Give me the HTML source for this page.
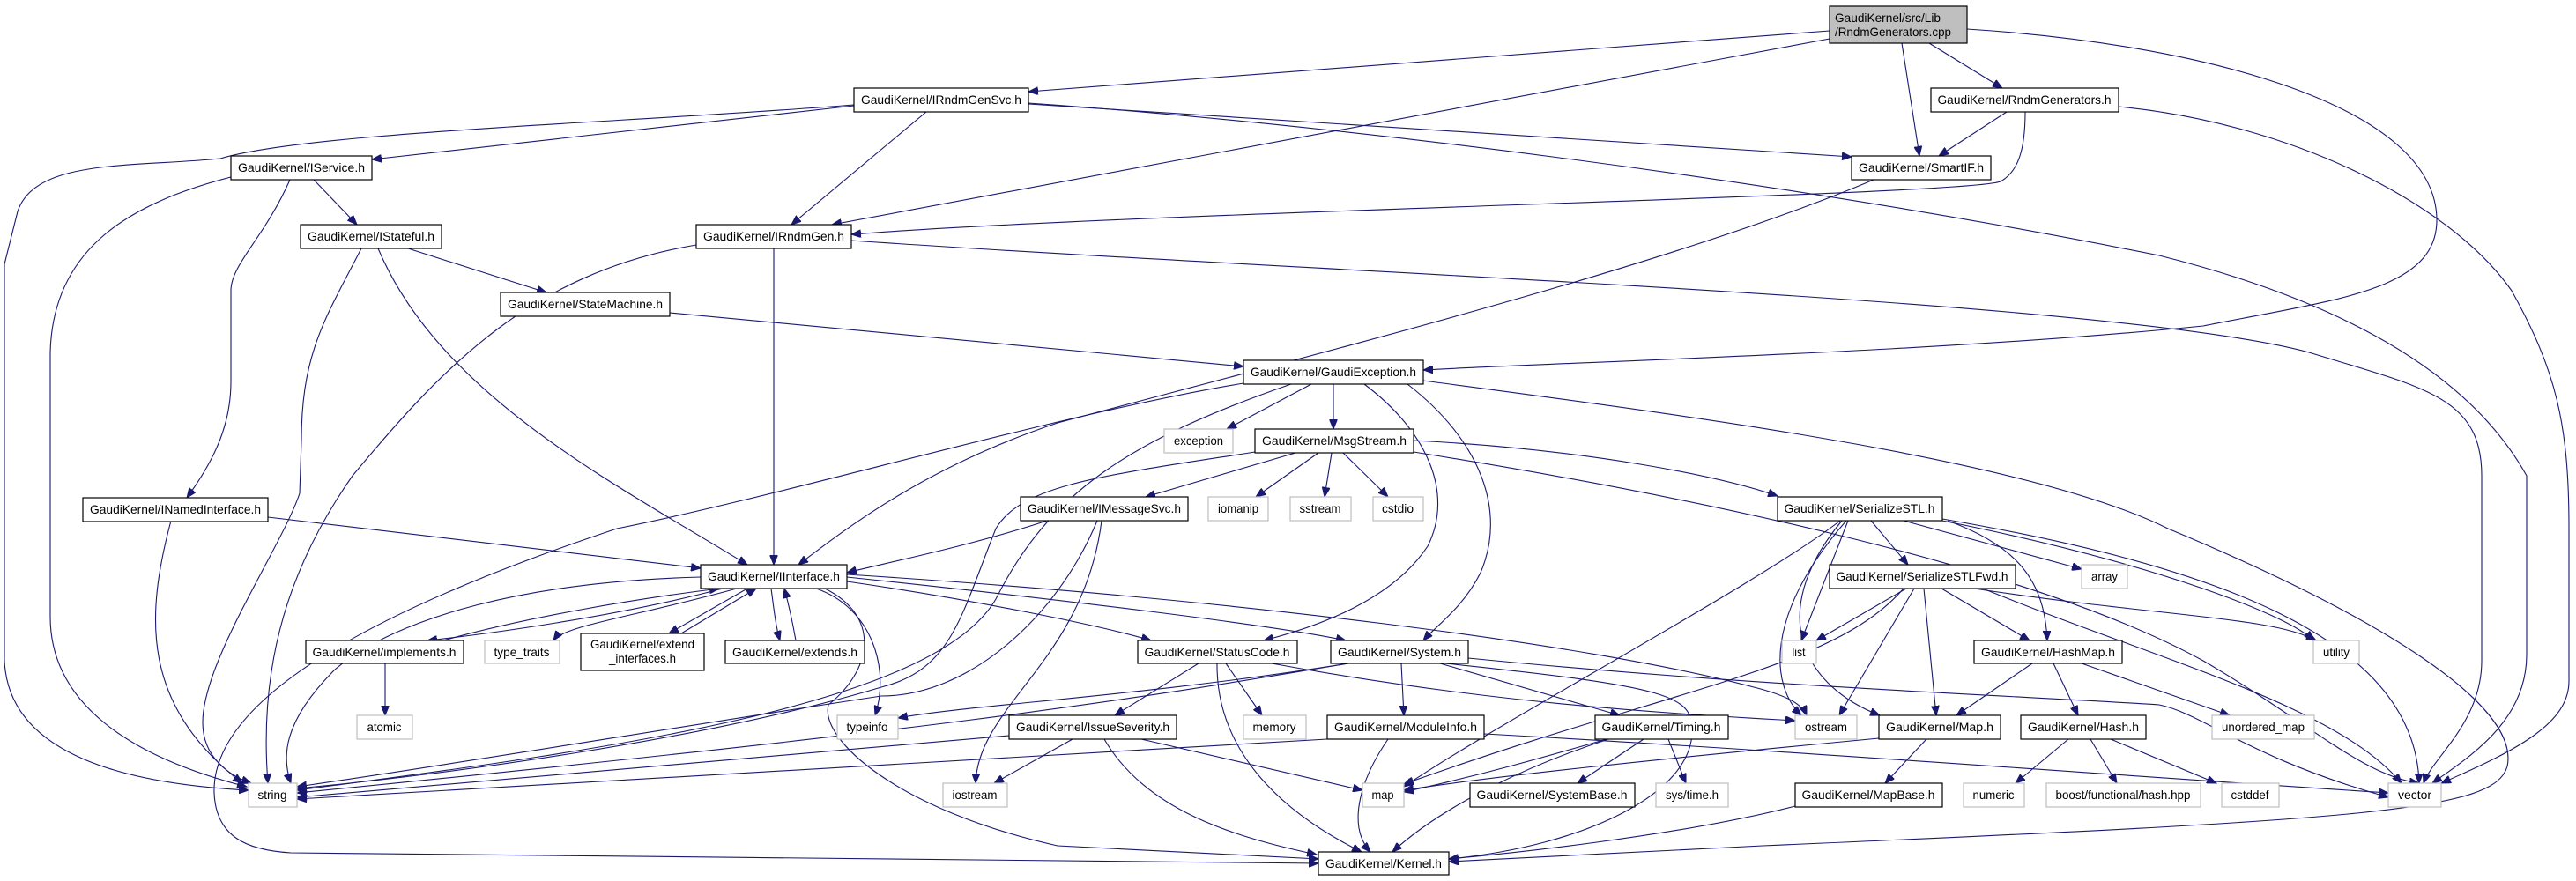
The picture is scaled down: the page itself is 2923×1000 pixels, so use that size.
<!DOCTYPE html>
<html><head><meta charset="utf-8"><style>
html,body{margin:0;padding:0;background:#fff}
svg{display:block}
text{font-family:"Liberation Sans",Arial,sans-serif;font-size:14px;fill:#000}
.e{fill:none;stroke:#191970;stroke-width:1.1}
.b{fill:#fff;stroke:#000;stroke-width:1.2}
.g{fill:#fff;stroke:#bfbfbf;stroke-width:1.2}
</style></head><body>
<svg width="2923" height="1000" viewBox="0 0 2923 1000" xmlns="http://www.w3.org/2000/svg">
<defs><marker id="a" markerUnits="userSpaceOnUse" markerWidth="12" markerHeight="9" refX="11" refY="4.5" orient="auto"><path d="M0,0 L11,4.5 L0,9 z" fill="#191970" stroke="#191970"/></marker></defs>
<g class="e" marker-end="url(#a)">
<path d="M2076,35 L1167,104"/>
<path d="M2076,44 L944,255"/>
<path d="M2158,49 L2178,177"/>
<path d="M2189,49 L2272,100"/>
<path d="M2232,33 C2500,50 2765,120 2765,250 C2765,330 2650,340 2500,370 C2200,400 1800,410 1615,420"/>
<path d="M2277,127 L2200,177"/>
<path d="M2298,127 C2298,170 2290,195 2270,206 C2230,222 1300,240 966,266"/>
<path d="M2404,121 C2600,140 2780,230 2850,330 C2900,420 2915,480 2915,600 L2915,773 C2915,820 2860,850 2770,889"/>
<path d="M1167,117 C1500,140 2000,200 2450,290 C2650,340 2800,420 2867,540 L2867,743 C2867,820 2800,860 2760,889"/>
<path d="M966,273 C1500,310 2400,340 2620,400 C2750,440 2816,450 2816,540 L2816,750 C2816,820 2760,860 2750,889"/>
<path d="M969,120 L422,181"/>
<path d="M1051,127 L898,255"/>
<path d="M1167,118 L2101,178"/>
<path d="M969,119 C700,140 350,150 250,180 C150,190 40,180 20,240 L5,300 L5,750 C10,860 150,890 282,897"/>
<path d="M2126,204 C1900,300 1500,400 1200,480 C1050,530 960,600 906,641"/>
<path d="M262,201 C150,230 60,280 57,400 L57,700 C57,800 150,860 280,893"/>
<path d="M329,204 C300,270 262,300 262,330 L262,433 C262,480 245,520 212,565"/>
<path d="M356,204 L405,255"/>
<path d="M410,282 C370,360 342,400 342,500 L340,560 C320,620 230,750 230,820 C230,860 260,880 285,889"/>
<path d="M429,282 C500,450 700,550 848,641"/>
<path d="M463,282 L620,332"/>
<path d="M760,355 L1411,416"/>
<path d="M878,282 L878,641"/>
<path d="M790,278 C600,310 500,420 400,540 C330,640 293,750 304,889"/>
<path d="M304,587 L795,645"/>
<path d="M194,591 C165,700 160,800 275,889"/>
<path d="M1488,436 L1392,487"/>
<path d="M1513,436 L1513,487"/>
<path d="M1465,436 C1280,500 1190,560 1130,680 C1060,800 700,850 337,897"/>
<path d="M1411,435 C1200,470 900,560 700,600 C400,700 240,800 243,900 C245,950 280,965 330,968 L1496,980"/>
<path d="M1548,436 C1620,490 1650,560 1620,620 C1580,680 1500,710 1434,727"/>
<path d="M1597,436 C1680,500 1710,580 1680,650 C1660,690 1630,710 1615,727"/>
<path d="M1615,432 C1900,470 2300,520 2460,600 C2700,700 2860,800 2845,870 C2830,920 2700,930 2000,960 L1644,978"/>
<path d="M1470,514 L1300,564"/>
<path d="M1496,514 L1425,564"/>
<path d="M1511,514 L1503,564"/>
<path d="M1524,514 L1575,564"/>
<path d="M1424,513 C1250,540 1160,550 1130,600 C1090,700 1080,760 1000,780 C800,840 500,880 337,895"/>
<path d="M1604,500 C1800,510 1950,540 2017,563"/>
<path d="M1604,513 C1900,560 2300,640 2500,750 C2620,820 2680,880 2745,889"/>
<path d="M1188,591 C1100,620 1000,640 961,650"/>
<path d="M1245,591 C1200,700 1100,790 1000,790 C800,820 500,870 337,893"/>
<path d="M1250,591 C1230,750 1110,800 1107,889"/>
<path d="M820,668 C700,700 550,720 485,727"/>
<path d="M503,727 C600,700 720,680 816,668"/>
<path d="M836,668 C720,700 640,710 628,727"/>
<path d="M848,668 L759,719"/>
<path d="M773,719 L858,668"/>
<path d="M875,668 C878,690 880,710 885,727"/>
<path d="M903,727 C900,710 896,690 890,668"/>
<path d="M926,668 C990,690 1010,760 993,812"/>
<path d="M961,660 C1100,680 1250,710 1306,727"/>
<path d="M961,655 C1200,680 1450,710 1527,727"/>
<path d="M961,652 C1400,680 1800,730 1990,780 C2030,790 2045,800 2050,812"/>
<path d="M936,668 C1000,700 990,760 940,800 C930,840 1020,920 1200,960 L1496,975"/>
<path d="M795,655 C600,660 450,700 380,760 C320,820 320,860 330,889"/>
<path d="M437,753 L437,812"/>
<path d="M1360,753 L1265,812"/>
<path d="M1391,753 L1432,812"/>
<path d="M1443,753 C1700,800 1900,810 2037,818"/>
<path d="M1381,753 C1380,850 1450,920 1545,967"/>
<path d="M1530,753 C1300,790 1100,800 1019,815"/>
<path d="M1530,753 C1250,800 1050,830 337,900"/>
<path d="M1590,753 L1593,812"/>
<path d="M1634,753 L1838,812"/>
<path d="M1640,753 C1900,780 1920,790 1920,830 C1920,900 1800,960 1644,975"/>
<path d="M1666,747 C2000,780 2300,790 2450,800 C2500,810 2550,860 2710,905"/>
<path d="M1145,835 L337,905"/>
<path d="M1217,839 L1128,889"/>
<path d="M1295,839 L1546,897"/>
<path d="M1253,839 C1300,920 1400,950 1494,970"/>
<path d="M1506,839 C1200,860 800,880 337,907"/>
<path d="M1575,839 C1540,890 1530,940 1555,967"/>
<path d="M1684,833 C2000,850 2400,880 2710,900"/>
<path d="M1865,839 L1790,889"/>
<path d="M1893,839 L1913,889"/>
<path d="M1825,839 C1700,880 1620,930 1580,967"/>
<path d="M1823,839 C1750,860 1680,880 1593,899"/>
<path d="M2123,591 L2165,641"/>
<path d="M2160,591 L2362,646"/>
<path d="M2097,591 L2044,727"/>
<path d="M2210,591 C2290,620 2320,660 2323,727"/>
<path d="M2204,591 C2450,640 2600,700 2625,727"/>
<path d="M2204,589 C2500,640 2740,720 2745,889"/>
<path d="M2095,591 C2000,700 2010,780 2044,812"/>
<path d="M2090,591 C2000,700 2050,780 2133,812"/>
<path d="M2088,591 C2000,660 1700,820 1593,893"/>
<path d="M2163,668 L2061,727"/>
<path d="M2172,668 L2087,812"/>
<path d="M2183,668 L2197,812"/>
<path d="M2203,668 L2303,727"/>
<path d="M2240,668 C2450,700 2580,700 2628,727"/>
<path d="M2250,668 C2450,750 2650,800 2725,889"/>
<path d="M2160,668 C2080,760 1900,780 1593,890"/>
<path d="M2306,753 L2220,812"/>
<path d="M2330,753 L2358,812"/>
<path d="M2362,753 L2530,812"/>
<path d="M2347,839 L2287,889"/>
<path d="M2372,839 L2402,889"/>
<path d="M2395,839 L2515,889"/>
<path d="M2132,838 C1900,860 1700,880 1593,897"/>
<path d="M2186,839 L2139,889"/>
<path d="M2037,915 C1900,950 1700,970 1644,975"/>
</g>
<g text-anchor="middle">
<rect x="2076" y="7" width="156" height="42" fill="#bfbfbf" stroke="#000" stroke-width="1.2"/>
<text x="2082" y="25" text-anchor="start" textLength="120" lengthAdjust="spacingAndGlyphs">GaudiKernel/src/Lib</text>
<text x="2082" y="41" text-anchor="start" textLength="132" lengthAdjust="spacingAndGlyphs">/RndmGenerators.cpp</text>

<rect class="b" x="969" y="100" width="198" height="27"/><text x="1068" y="118" textLength="182" lengthAdjust="spacingAndGlyphs">GaudiKernel/IRndmGenSvc.h</text>
<rect class="b" x="2191" y="100" width="213" height="27"/><text x="2297" y="118" textLength="197" lengthAdjust="spacingAndGlyphs">GaudiKernel/RndmGenerators.h</text>
<rect class="b" x="2101" y="177" width="158" height="27"/><text x="2180" y="195" textLength="142" lengthAdjust="spacingAndGlyphs">GaudiKernel/SmartIF.h</text>
<rect class="b" x="262" y="177" width="160" height="27"/><text x="342" y="195" textLength="144" lengthAdjust="spacingAndGlyphs">GaudiKernel/IService.h</text>
<rect class="b" x="341" y="255" width="160" height="27"/><text x="421" y="273" textLength="144" lengthAdjust="spacingAndGlyphs">GaudiKernel/IStateful.h</text>
<rect class="b" x="790" y="255" width="176" height="27"/><text x="878" y="273" textLength="160" lengthAdjust="spacingAndGlyphs">GaudiKernel/IRndmGen.h</text>
<rect class="b" x="568" y="332" width="192" height="27"/><text x="664" y="350" textLength="176" lengthAdjust="spacingAndGlyphs">GaudiKernel/StateMachine.h</text>
<rect class="b" x="1411" y="409" width="204" height="27"/><text x="1513" y="427" textLength="188" lengthAdjust="spacingAndGlyphs">GaudiKernel/GaudiException.h</text>
<rect class="g" x="1321" y="487" width="78" height="27"/><text x="1360" y="505" textLength="56" lengthAdjust="spacingAndGlyphs">exception</text>
<rect class="b" x="1424" y="487" width="180" height="27"/><text x="1514" y="505" textLength="164" lengthAdjust="spacingAndGlyphs">GaudiKernel/MsgStream.h</text>
<rect class="b" x="94" y="565" width="210" height="27"/><text x="199" y="583" textLength="194" lengthAdjust="spacingAndGlyphs">GaudiKernel/INamedInterface.h</text>
<rect class="b" x="1158" y="564" width="190" height="27"/><text x="1253" y="582" textLength="174" lengthAdjust="spacingAndGlyphs">GaudiKernel/IMessageSvc.h</text>
<rect class="g" x="1371" y="564" width="68" height="27"/><text x="1405" y="582" textLength="46" lengthAdjust="spacingAndGlyphs">iomanip</text>
<rect class="g" x="1464" y="564" width="69" height="27"/><text x="1498" y="582" textLength="47" lengthAdjust="spacingAndGlyphs">sstream</text>
<rect class="g" x="1558" y="564" width="57" height="27"/><text x="1586" y="582" textLength="36" lengthAdjust="spacingAndGlyphs">cstdio</text>
<rect class="b" x="2017" y="564" width="187" height="27"/><text x="2110" y="582" textLength="171" lengthAdjust="spacingAndGlyphs">GaudiKernel/SerializeSTL.h</text>
<rect class="b" x="795" y="641" width="166" height="27"/><text x="878" y="659" textLength="150" lengthAdjust="spacingAndGlyphs">GaudiKernel/IInterface.h</text>
<rect class="b" x="2076" y="641" width="211" height="27"/><text x="2181" y="659" textLength="195" lengthAdjust="spacingAndGlyphs">GaudiKernel/SerializeSTLFwd.h</text>
<rect class="g" x="2362" y="641" width="52" height="27"/><text x="2388" y="659" textLength="30" lengthAdjust="spacingAndGlyphs">array</text>
<rect class="b" x="347" y="727" width="179" height="26"/><text x="436" y="745" textLength="163" lengthAdjust="spacingAndGlyphs">GaudiKernel/implements.h</text>
<rect class="g" x="550" y="727" width="85" height="26"/><text x="592" y="745" textLength="63" lengthAdjust="spacingAndGlyphs">type_traits</text>
<rect class="b" x="659" y="719" width="140" height="42"/><text x="729" y="736" textLength="118" lengthAdjust="spacingAndGlyphs">GaudiKernel/extend</text><text x="729" y="752" textLength="76" lengthAdjust="spacingAndGlyphs">_interfaces.h</text>
<rect class="b" x="823" y="727" width="158" height="26"/><text x="902" y="745" textLength="142" lengthAdjust="spacingAndGlyphs">GaudiKernel/extends.h</text>
<rect class="b" x="1291" y="727" width="181" height="26"/><text x="1381" y="745" textLength="165" lengthAdjust="spacingAndGlyphs">GaudiKernel/StatusCode.h</text>
<rect class="b" x="1510" y="727" width="156" height="26"/><text x="1588" y="745" textLength="140" lengthAdjust="spacingAndGlyphs">GaudiKernel/System.h</text>
<rect class="g" x="2022" y="727" width="39" height="26"/><text x="2041" y="745" textLength="15" lengthAdjust="spacingAndGlyphs">list</text>
<rect class="b" x="2240" y="727" width="168" height="26"/><text x="2324" y="745" textLength="152" lengthAdjust="spacingAndGlyphs">GaudiKernel/HashMap.h</text>
<rect class="g" x="2625" y="727" width="52" height="26"/><text x="2651" y="745" textLength="30" lengthAdjust="spacingAndGlyphs">utility</text>
<rect class="g" x="405" y="812" width="63" height="27"/><text x="436" y="830" textLength="39" lengthAdjust="spacingAndGlyphs">atomic</text>
<rect class="g" x="950" y="812" width="69" height="27"/><text x="984" y="830" textLength="47" lengthAdjust="spacingAndGlyphs">typeinfo</text>
<rect class="b" x="1145" y="812" width="190" height="27"/><text x="1240" y="830" textLength="174" lengthAdjust="spacingAndGlyphs">GaudiKernel/IssueSeverity.h</text>
<rect class="g" x="1411" y="812" width="71" height="27"/><text x="1446" y="830" textLength="49" lengthAdjust="spacingAndGlyphs">memory</text>
<rect class="b" x="1506" y="812" width="178" height="27"/><text x="1595" y="830" textLength="162" lengthAdjust="spacingAndGlyphs">GaudiKernel/ModuleInfo.h</text>
<rect class="b" x="1810" y="812" width="151" height="27"/><text x="1885" y="830" textLength="135" lengthAdjust="spacingAndGlyphs">GaudiKernel/Timing.h</text>
<rect class="g" x="2037" y="812" width="70" height="27"/><text x="2072" y="830" textLength="48" lengthAdjust="spacingAndGlyphs">ostream</text>
<rect class="b" x="2132" y="812" width="138" height="27"/><text x="2201" y="830" textLength="122" lengthAdjust="spacingAndGlyphs">GaudiKernel/Map.h</text>
<rect class="b" x="2293" y="812" width="142" height="27"/><text x="2364" y="830" textLength="126" lengthAdjust="spacingAndGlyphs">GaudiKernel/Hash.h</text>
<rect class="g" x="2510" y="812" width="116" height="27"/><text x="2568" y="830" textLength="94" lengthAdjust="spacingAndGlyphs">unordered_map</text>
<rect class="g" x="282" y="889" width="55" height="27"/><text x="309" y="907" textLength="33" lengthAdjust="spacingAndGlyphs">string</text>
<rect class="g" x="1070" y="889" width="73" height="27"/><text x="1106" y="907" textLength="51" lengthAdjust="spacingAndGlyphs">iostream</text>
<rect class="g" x="1546" y="889" width="47" height="27"/><text x="1569" y="907" textLength="25" lengthAdjust="spacingAndGlyphs">map</text>
<rect class="b" x="1668" y="889" width="187" height="27"/><text x="1761" y="907" textLength="171" lengthAdjust="spacingAndGlyphs">GaudiKernel/SystemBase.h</text>
<rect class="g" x="1879" y="889" width="82" height="27"/><text x="1920" y="907" textLength="60" lengthAdjust="spacingAndGlyphs">sys/time.h</text>
<rect class="b" x="2037" y="889" width="167" height="27"/><text x="2120" y="907" textLength="151" lengthAdjust="spacingAndGlyphs">GaudiKernel/MapBase.h</text>
<rect class="g" x="2228" y="889" width="69" height="27"/><text x="2262" y="907" textLength="47" lengthAdjust="spacingAndGlyphs">numeric</text>
<rect class="g" x="2322" y="889" width="175" height="27"/><text x="2409" y="907" textLength="153" lengthAdjust="spacingAndGlyphs">boost/functional/hash.hpp</text>
<rect class="g" x="2521" y="889" width="65" height="27"/><text x="2553" y="907" textLength="43" lengthAdjust="spacingAndGlyphs">cstddef</text>
<rect class="g" x="2710" y="889" width="60" height="27"/><text x="2740" y="907" textLength="38" lengthAdjust="spacingAndGlyphs">vector</text>
<rect class="b" x="1496" y="967" width="148" height="26"/><text x="1570" y="985" textLength="132" lengthAdjust="spacingAndGlyphs">GaudiKernel/Kernel.h</text>
</g>
</svg>
</body></html>
